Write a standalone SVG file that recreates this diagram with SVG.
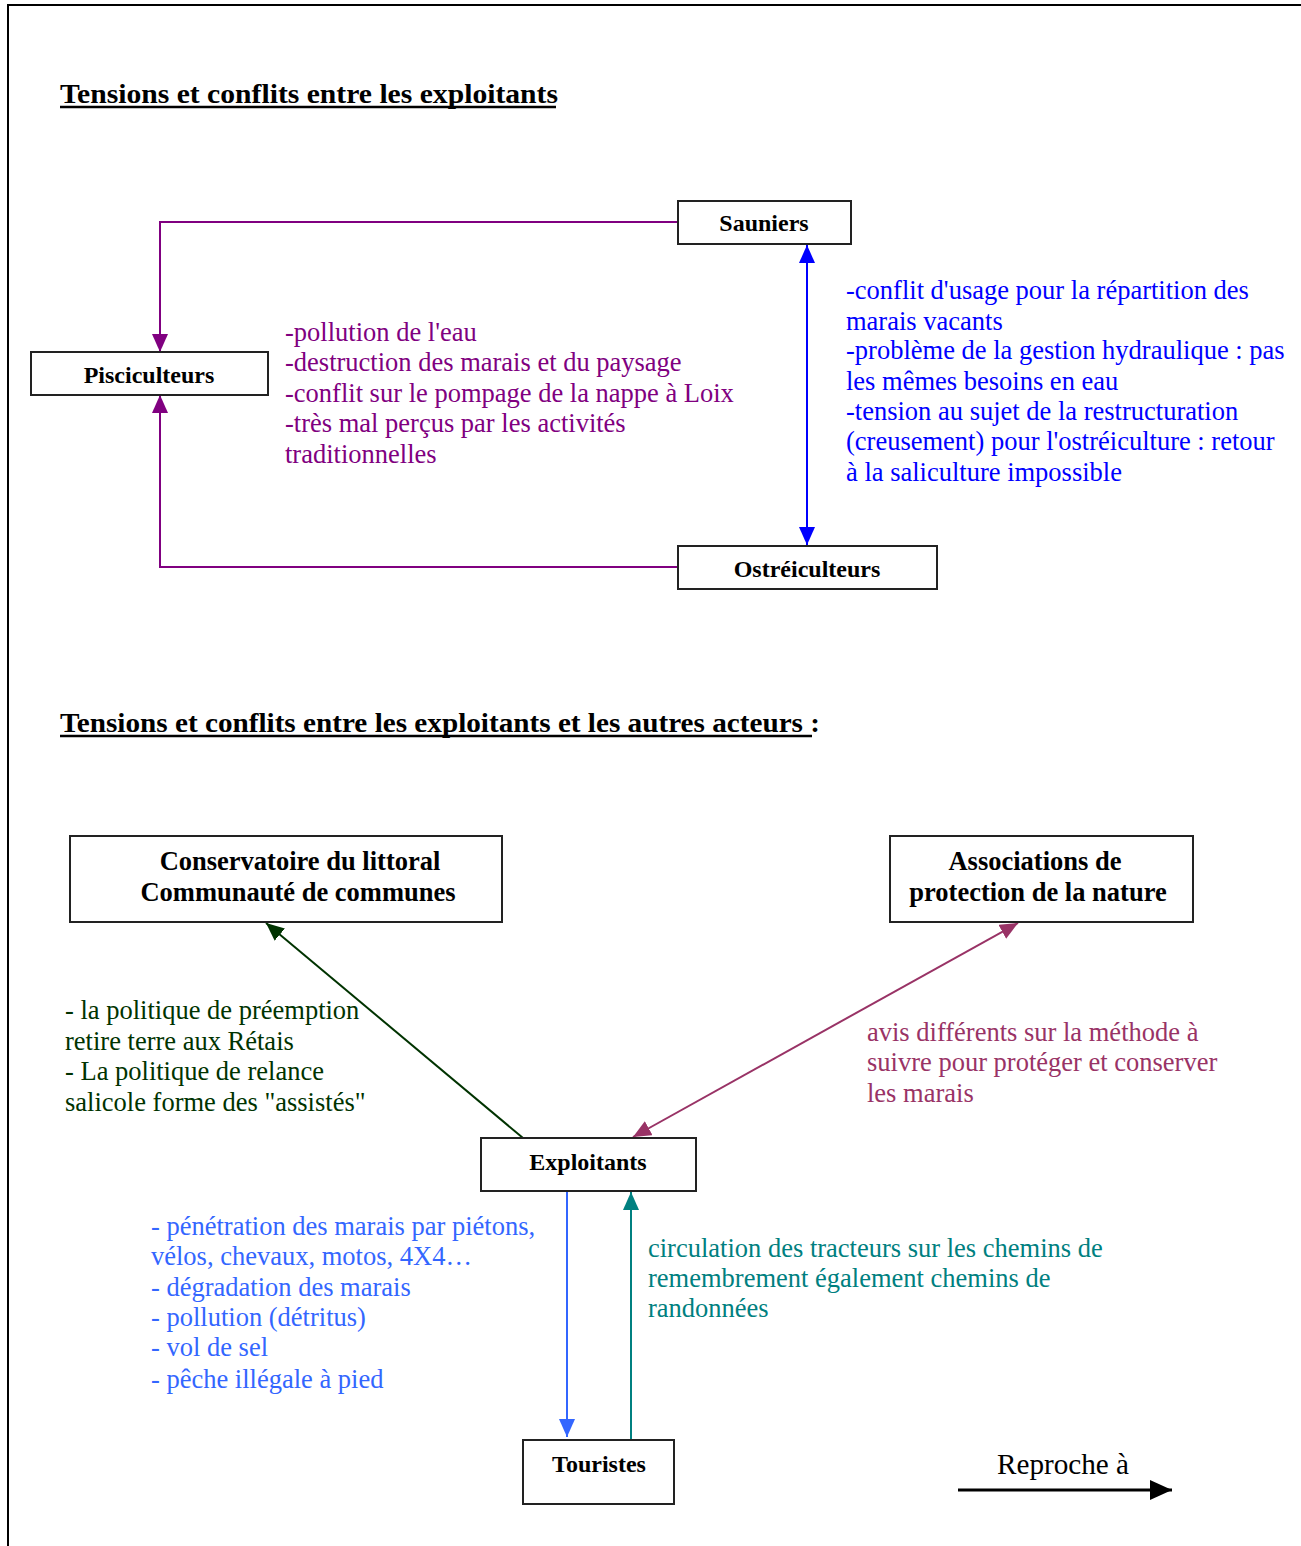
<svg xmlns="http://www.w3.org/2000/svg" width="1301" height="1546" viewBox="0 0 1301 1546">
<style>
text{font-family:"Liberation Serif","Times New Roman",serif;}
.title{font-size:28px;font-weight:bold;fill:#000;}
.node{font-size:24px;font-weight:bold;fill:#000;text-anchor:middle;}
.big{font-size:26.5px;}
.box{fill:#fff;stroke:#222;stroke-width:2;}
.lbl{font-size:26.5px;}
.purple{fill:#800080;}
.blue{fill:#0000FF;}
.green{fill:#003300;}
.maroon{fill:#993366;}
.lblue{fill:#3366FF;}
.teal{fill:#008080;}
</style>
<defs>
<marker id="mPurple" markerUnits="userSpaceOnUse" markerWidth="20" markerHeight="18" refX="18" refY="8" orient="auto-start-reverse"><path d="M0,0 L18,8 L0,16 z" fill="#800080"/></marker>
<marker id="mBlue" markerUnits="userSpaceOnUse" markerWidth="20" markerHeight="18" refX="18" refY="8" orient="auto-start-reverse"><path d="M0,0 L18,8 L0,16 z" fill="#0000FF"/></marker>
<marker id="mGreen" markerUnits="userSpaceOnUse" markerWidth="20" markerHeight="18" refX="18" refY="8" orient="auto-start-reverse"><path d="M0,0 L18,8 L0,16 z" fill="#003300"/></marker>
<marker id="mMaroon" markerUnits="userSpaceOnUse" markerWidth="20" markerHeight="18" refX="18" refY="8" orient="auto-start-reverse"><path d="M0,0 L18,8 L0,16 z" fill="#993366"/></marker>
<marker id="mLblue" markerUnits="userSpaceOnUse" markerWidth="20" markerHeight="18" refX="18" refY="8" orient="auto-start-reverse"><path d="M0,0 L18,8 L0,16 z" fill="#3366FF"/></marker>
<marker id="mTeal" markerUnits="userSpaceOnUse" markerWidth="20" markerHeight="18" refX="18" refY="8" orient="auto-start-reverse"><path d="M0,0 L18,8 L0,16 z" fill="#008080"/></marker>
<marker id="mBlack" markerUnits="userSpaceOnUse" markerWidth="24" markerHeight="22" refX="22" refY="10" orient="auto"><path d="M0,0 L22,10 L0,20 z" fill="#000"/></marker>
</defs>
<rect width="1301" height="1546" fill="#fff"/>
<path d="M8,1546 V5 H1301" fill="none" stroke="#000" stroke-width="2"/>

<g id="titles">
<text class="title" x="60" y="103" textLength="498" lengthAdjust="spacingAndGlyphs">Tensions et conflits entre les exploitants</text>
<line x1="60" y1="107" x2="556" y2="107" stroke="#000" stroke-width="2.5"/>
<text class="title" x="60" y="732" textLength="760" lengthAdjust="spacingAndGlyphs">Tensions et conflits entre les exploitants et les autres acteurs :</text>
<line x1="60" y1="736" x2="812" y2="736" stroke="#000" stroke-width="2.5"/>
</g>

<g id="connectors" fill="none" stroke-width="2">
<polyline points="678,222 160,222 160,352" stroke="#800080" marker-end="url(#mPurple)"/>
<polyline points="678,567 160,567 160,395" stroke="#800080" marker-end="url(#mPurple)"/>
<line x1="807" y1="245" x2="807" y2="545" stroke="#0000FF" marker-start="url(#mBlue)" marker-end="url(#mBlue)"/>
<line x1="523" y1="1138" x2="266" y2="923" stroke="#003300" marker-end="url(#mGreen)"/>
<line x1="1018" y1="923" x2="633" y2="1137" stroke="#993366" marker-start="url(#mMaroon)" marker-end="url(#mMaroon)"/>
<line x1="567" y1="1191" x2="567" y2="1437" stroke="#3366FF" marker-end="url(#mLblue)"/>
<line x1="631" y1="1440" x2="631" y2="1192" stroke="#008080" marker-end="url(#mTeal)"/>
<line x1="958" y1="1490" x2="1172" y2="1490" stroke="#000" stroke-width="3" marker-end="url(#mBlack)"/>
</g>

<g id="sauniers"><rect class="box" x="678" y="201" width="173" height="43"/><text class="node" x="764" y="231">Sauniers</text></g>
<g id="pisciculteurs"><rect class="box" x="31" y="352" width="237" height="43"/><text class="node" x="149" y="383">Pisciculteurs</text></g>
<g id="ostreiculteurs"><rect class="box" x="678" y="546" width="259" height="43"/><text class="node" x="807" y="577">Ostréiculteurs</text></g>
<g id="conservatoire"><rect class="box" x="70" y="836" width="432" height="86"/><text class="node big" x="300" y="870">Conservatoire du littoral</text><text class="node big" x="298" y="901">Communauté de communes</text></g>
<g id="associations"><rect class="box" x="890" y="836" width="303" height="86"/><text class="node big" x="1035" y="870">Associations de</text><text class="node big" x="1038" y="901">protection de la nature</text></g>
<g id="exploitants"><rect class="box" x="481" y="1138" width="215" height="53"/><text class="node" x="588" y="1170">Exploitants</text></g>
<g id="touristes"><rect class="box" x="523" y="1440" width="151" height="64"/><text class="node" x="599" y="1472">Touristes</text></g>

<g id="labels">
<text class="lbl purple"><tspan x="285" y="341">-pollution de l'eau</tspan><tspan x="285" y="371">-destruction des marais et du paysage</tspan><tspan x="285" y="402">-conflit sur le pompage de la nappe à Loix</tspan><tspan x="285" y="432">-très mal perçus par les activités</tspan><tspan x="285" y="463">traditionnelles</tspan></text>
<text class="lbl blue"><tspan x="846" y="299">-conflit d'usage pour la répartition des</tspan><tspan x="846" y="330">marais vacants</tspan><tspan x="846" y="359">-problème de la gestion hydraulique : pas</tspan><tspan x="846" y="390">les mêmes besoins en eau</tspan><tspan x="846" y="420">-tension au sujet de la restructuration</tspan><tspan x="846" y="450">(creusement) pour l'ostréiculture : retour</tspan><tspan x="846" y="481">à la saliculture impossible</tspan></text>
<text class="lbl green"><tspan x="65" y="1019">- la politique de préemption</tspan><tspan x="65" y="1050">retire terre aux Rétais</tspan><tspan x="65" y="1080">- La politique de relance</tspan><tspan x="65" y="1111">salicole forme des "assistés"</tspan></text>
<text class="lbl maroon"><tspan x="867" y="1041">avis différents sur la méthode à</tspan><tspan x="867" y="1071">suivre pour protéger et conserver</tspan><tspan x="867" y="1102">les marais</tspan></text>
<text class="lbl lblue"><tspan x="151" y="1235">- pénétration des marais par piétons,</tspan><tspan x="151" y="1265">vélos, chevaux, motos, 4X4…</tspan><tspan x="151" y="1296">- dégradation des marais</tspan><tspan x="151" y="1326">- pollution (détritus)</tspan><tspan x="151" y="1356">- vol de sel</tspan><tspan x="151" y="1388">- pêche illégale à pied</tspan></text>
<text class="lbl teal"><tspan x="648" y="1257">circulation des tracteurs sur les chemins de</tspan><tspan x="648" y="1287">remembrement également chemins de</tspan><tspan x="648" y="1317">randonnées</tspan></text>
<text x="997" y="1474" fill="#000" font-size="29" textLength="132" lengthAdjust="spacingAndGlyphs">Reproche à</text>
</g>
</svg>
